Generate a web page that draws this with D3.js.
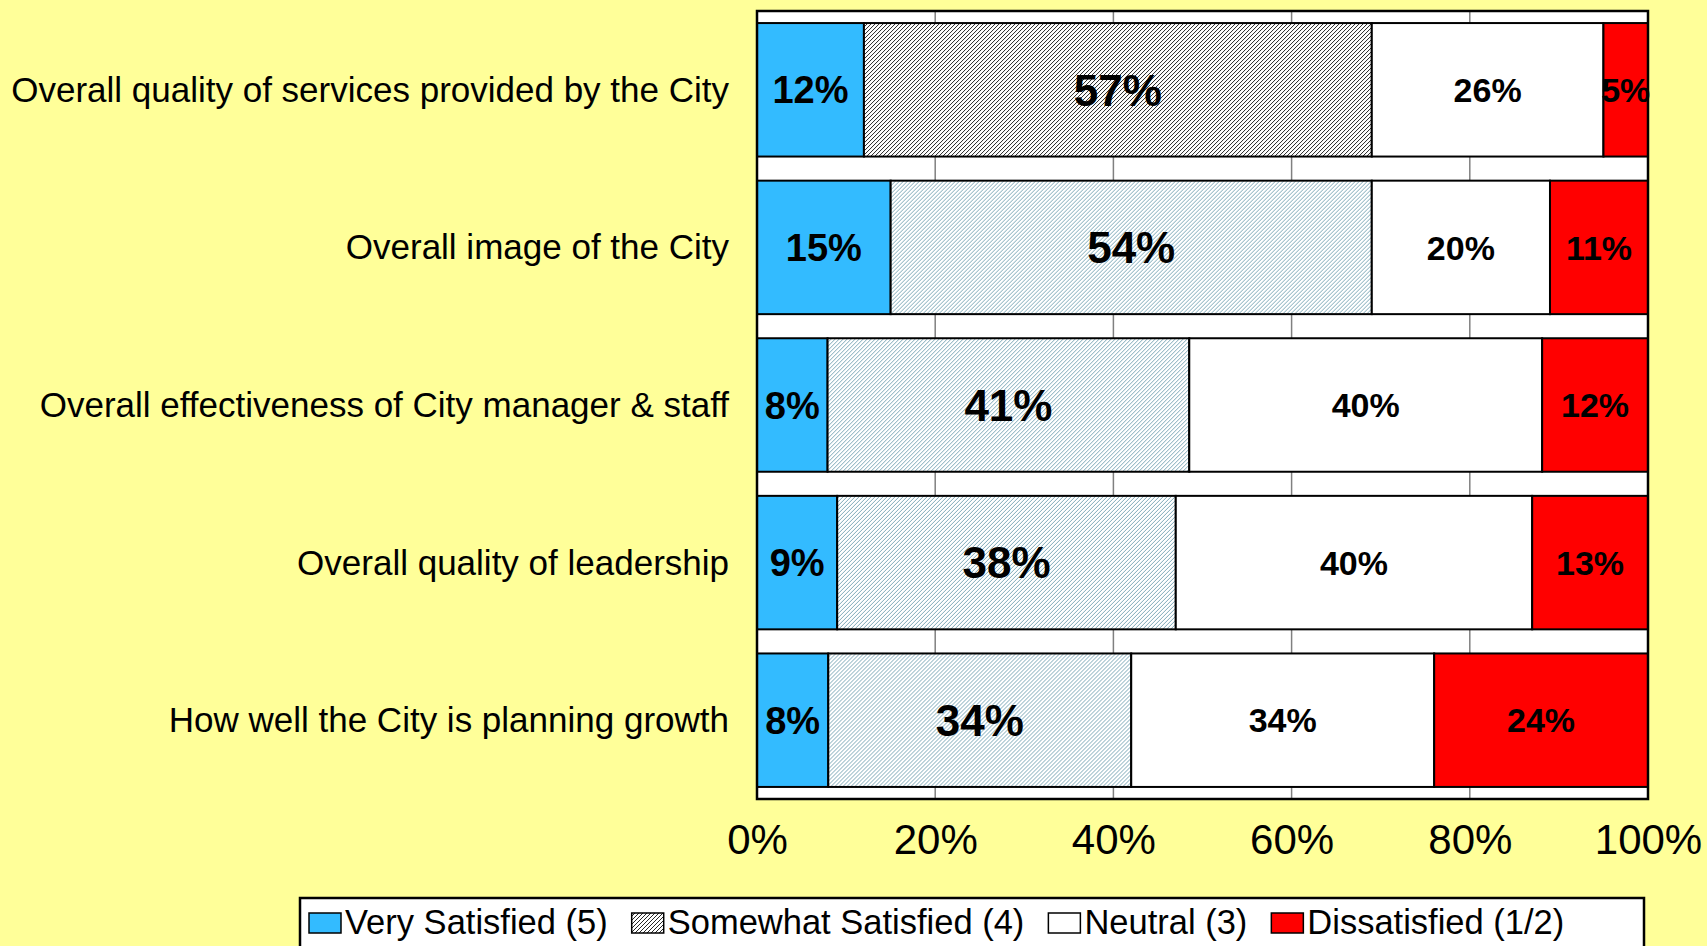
<!DOCTYPE html>
<html>
<head>
<meta charset="utf-8">
<script src="https://cdn.jsdelivr.net/npm/d3@7"></script>
<style>
  body { margin:0; background:#ffff99; }
  svg text { font-family: Arial, "Liberation Sans", sans-serif; }
</style>
</head>
<body>
<svg id="chart" width="1707" height="946"></svg>
<script>
// data
var categories = [
    "Overall quality of services provided by the City",
    "Overall image of the City",
    "Overall effectiveness of City manager & staff",
    "Overall quality of leadership",
    "How well the City is planning growth"
];
var series = ["Very Satisfied (5)", "Somewhat Satisfied (4)", "Neutral (3)", "Dissatisfied (1/2)"];
var verySatisfied     = [12, 15, 8, 9, 8];
var somewhatSatisfied = [57, 54, 41, 38, 34];
var neutral           = [26, 20, 40, 40, 34];
var dissatisfied      = [5, 11, 12, 13, 24];
var tickValues = [0, 0.2, 0.4, 0.6, 0.8, 1];

var svg = d3.select('#chart');
// note: "top" is taken by window.top, so plot edges get their own names
var plotLeft = 757, plotRight = 1648, plotTop = 11, plotBottom = 799;

// patterns
var defs = svg.append('defs');
function hatch(id, color, sw){
    var p = defs.append('pattern')
        .attr('id', id)
        .attr('patternUnits', 'userSpaceOnUse')
        .attr('width', 4).attr('height', 4);
    p.append('rect').attr('width', 4).attr('height', 4).style('fill', '#fff');
    p.append('path')
        .attr('d', 'M-1,1 l2,-2 M0,4 l4,-4 M3,5 l2,-2')
        .style('stroke', color)
        .style('stroke-width', sw);
}
hatch('hatchDark', '#000', 0.85);
hatch('hatchLight', '#6f9fb0', 0.9);

var fills = ['#33bbff', null, '#ffffff', '#ff0000'];
var labelSize = [38, 44, 34, 34];

// build rows, each normalized to its total
var rows = categories.map(function(c, i){
    var vals = [verySatisfied[i], somewhatSatisfied[i], neutral[i], dissatisfied[i]];
    var total = d3.sum(vals);
    var acc = 0;
    var segs = vals.map(function(v, k){
        var s = {k:k, v:v, x0:acc/total, x1:(acc+v)/total, row:i};
        acc += v;
        return s;
    });
    return {cat:c, segs:segs};
});

var x = d3.scaleLinear().domain([0, 1]).range([plotLeft, plotRight]);
var y = d3.scaleBand().domain(categories).range([plotTop, plotBottom])
    .paddingInner(0.153).paddingOuter(0.0765);

// plot background
svg.append('rect')
    .attr('x', plotLeft).attr('y', plotTop)
    .attr('width', plotRight-plotLeft).attr('height', plotBottom-plotTop)
    .style('fill', '#fff');

// grid lines
svg.append('g').selectAll('line').data(tickValues.slice(1, -1)).enter()
    .append('line')
    .attr('x1', function(d){ return x(d); })
    .attr('x2', function(d){ return x(d); })
    .attr('y1', plotTop).attr('y2', plotBottom)
    .style('stroke', '#808080')
    .style('stroke-width', 1.5);

// bars
var rowG = svg.append('g').selectAll('g').data(rows).enter()
    .append('g')
    .attr('transform', function(d){ return 'translate(0,' + y(d.cat) + ')'; });

rowG.selectAll('rect').data(function(d){ return d.segs; }).enter()
    .append('rect')
    .attr('x', function(d){ return x(d.x0); })
    .attr('width', function(d){ return x(d.x1) - x(d.x0); })
    .attr('y', 0)
    .attr('height', y.bandwidth())
    .style('fill', function(d){
        if(d.k == 1) return d.row == 0 ? 'url(#hatchDark)' : 'url(#hatchLight)';
        return fills[d.k];
    })
    .style('stroke', '#000')
    .style('stroke-width', 2);

rowG.selectAll('text').data(function(d){ return d.segs; }).enter()
    .append('text')
    .attr('x', function(d){ return (x(d.x0) + x(d.x1)) / 2; })
    .attr('y', function(d){ return y.bandwidth()/2 + labelSize[d.k]*0.36; })
    .attr('text-anchor', 'middle')
    .style('font-weight', 'bold')
    .style('font-size', function(d){ return labelSize[d.k] + 'px'; })
    .style('fill', '#000')
    .text(function(d){ return d.v + '%'; });

// frame
svg.append('rect')
    .attr('x', plotLeft).attr('y', plotTop)
    .attr('width', plotRight-plotLeft).attr('height', plotBottom-plotTop)
    .style('fill', 'none')
    .style('stroke', '#000')
    .style('stroke-width', 2.5);

// category labels
svg.append('g').selectAll('text').data(categories).enter()
    .append('text')
    .attr('x', 729)
    .attr('y', function(d){ return y(d) + y.bandwidth()/2 + 12; })
    .attr('text-anchor', 'end')
    .style('font-size', '35px')
    .style('fill', '#000')
    .text(function(d){ return d; });

// x axis
var xAxis = d3.axisBottom(x).tickValues(tickValues).tickSize(0).tickPadding(0)
    .tickFormat(d3.format('.0%'));
var axisG = svg.append('g').attr('transform', 'translate(0,' + plotBottom + ')').call(xAxis);
axisG.select('.domain').remove();
axisG.selectAll('text')
    .attr('dy', null)
    .attr('y', 55)
    .style('font-family', 'Arial, "Liberation Sans", sans-serif')
    .style('font-size', '42px')
    .style('fill', '#000');

// legend
var legend = svg.append('g');
legend.append('rect')
    .attr('x', 300).attr('y', 898)
    .attr('width', 1344).attr('height', 80)
    .style('fill', '#fff')
    .style('stroke', '#000')
    .style('stroke-width', 2.5);

var lx = 309;
series.forEach(function(s, k){
    legend.append('rect')
        .attr('x', lx).attr('y', 913)
        .attr('width', 32).attr('height', 20)
        .style('fill', k == 1 ? 'url(#hatchDark)' : fills[k])
        .style('stroke', '#000')
        .style('stroke-width', 1.5);
    var t = legend.append('text')
        .attr('x', lx + 36).attr('y', 934)
        .style('font-size', '34.5px')
        .style('fill', '#000')
        .text(s);
    lx = lx + 36 + t.node().getComputedTextLength() + 24;
});
</script>
</body>
</html>
